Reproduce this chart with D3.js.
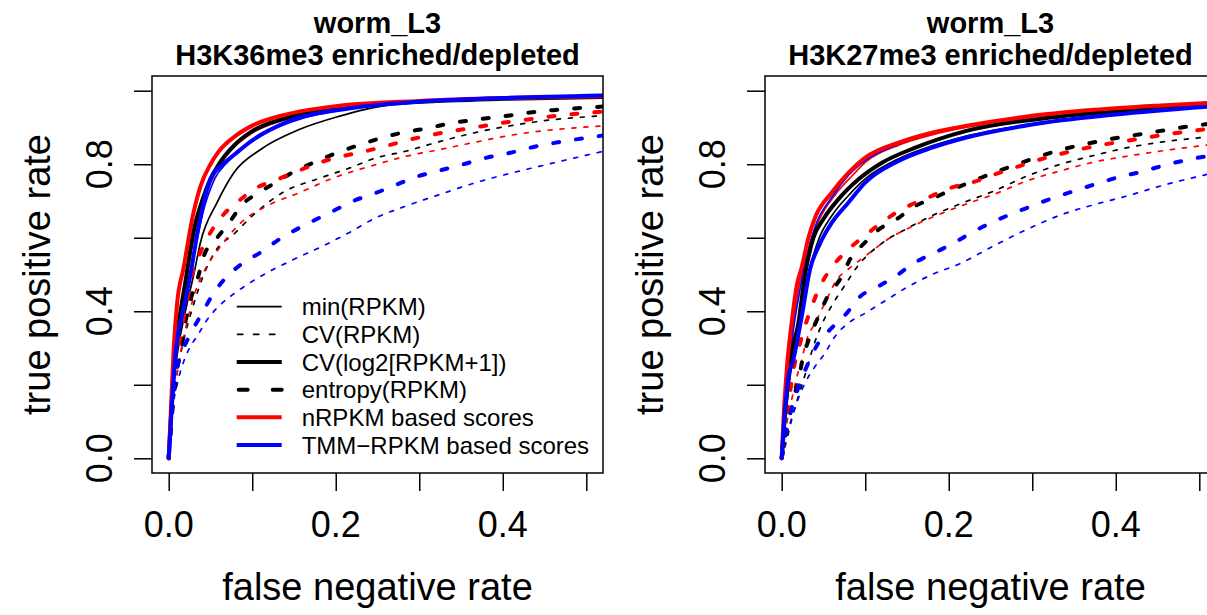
<!DOCTYPE html>
<html>
<head>
<meta charset="utf-8">
<script src="https://cdn.jsdelivr.net/npm/d3@7/dist/d3.min.js"></script>
<style>
  body { margin: 0; background: #fff; }
  text { font-family: "Liberation Sans", Arial, Helvetica, sans-serif; fill: #000; }
</style>
</head>
<body>
<svg id="chart" width="1207" height="615"></svg>
<script>
// ---- data ----
const titleTop = 'worm_L3';
const panelTitles = ['H3K36me3 enriched/depleted', 'H3K27me3 enriched/depleted'];
const xTicks = [0, 0.1, 0.2, 0.3, 0.4, 0.5];
const xTickLabels = ['0.0', '0.2', '0.4'];
const yTicks = [0, 0.2, 0.4, 0.6, 0.8, 1.0];
const yTickLabels = ['0.0', '0.4', '0.8'];
const legendLabels = ['min(RPKM)', 'CV(RPKM)', 'CV(log2[RPKM+1])', 'entropy(RPKM)', 'nRPKM based scores', 'TMM\u2212RPKM based scores'];

// H3K36me3 panel: [fnr, tpr]
const k36_min_rpkm = [[0,0],[0.005,0.18],[0.01,0.28],[0.02,0.4],[0.03,0.5],[0.038,0.587],[0.058,0.696],[0.078,0.777],[0.11,0.84],[0.157,0.895],[0.205,0.931],[0.245,0.954],[0.3,0.968],[0.4,0.978],[0.52,0.983]];
const k36_min_nrpkm = [[0,0],[0.005,0.18],[0.01,0.3],[0.02,0.46],[0.03,0.6],[0.045,0.72],[0.062,0.8],[0.08,0.85],[0.1,0.885],[0.14,0.922],[0.2,0.95],[0.3,0.968],[0.4,0.977],[0.52,0.982]];
const k36_min_tmm = [[0,0],[0.004,0.14],[0.008,0.26],[0.015,0.37],[0.022,0.45],[0.03,0.55],[0.04,0.66],[0.055,0.76],[0.07,0.805],[0.09,0.845],[0.12,0.89],[0.16,0.925],[0.22,0.952],[0.3,0.968],[0.4,0.978],[0.52,0.985]];
const k36_cv_rpkm = [[0,0],[0.004,0.12],[0.01,0.23],[0.02,0.34],[0.03,0.42],[0.042,0.5],[0.055,0.56],[0.08,0.614],[0.098,0.655],[0.138,0.725],[0.178,0.76],[0.217,0.79],[0.245,0.815],[0.285,0.836],[0.325,0.862],[0.365,0.885],[0.405,0.903],[0.445,0.917],[0.52,0.932]];
const k36_cv_nrpkm = [[0,0],[0.004,0.12],[0.01,0.23],[0.02,0.35],[0.03,0.44],[0.045,0.52],[0.06,0.57],[0.086,0.64],[0.118,0.687],[0.157,0.723],[0.193,0.759],[0.245,0.797],[0.285,0.822],[0.325,0.84],[0.365,0.859],[0.405,0.877],[0.445,0.89],[0.52,0.904]];
const k36_cv_tmm = [[0,0],[0.004,0.12],[0.01,0.2],[0.016,0.25],[0.024,0.296],[0.034,0.332],[0.046,0.377],[0.062,0.418],[0.082,0.454],[0.11,0.495],[0.146,0.537],[0.185,0.578],[0.217,0.615],[0.245,0.651],[0.285,0.687],[0.325,0.718],[0.365,0.748],[0.405,0.773],[0.445,0.795],[0.52,0.835]];
const k36_cvlog_rpkm = [[0,0],[0.005,0.2],[0.01,0.33],[0.02,0.48],[0.03,0.62],[0.04,0.7],[0.05,0.76],[0.06,0.8],[0.08,0.855],[0.1,0.89],[0.14,0.925],[0.2,0.952],[0.3,0.97],[0.4,0.978],[0.52,0.983]];
const k36_cvlog_nrpkm = [[0,0],[0.003,0.15],[0.006,0.3],[0.01,0.42],[0.018,0.52],[0.028,0.65],[0.038,0.74],[0.05,0.8],[0.06,0.835],[0.08,0.877],[0.1,0.905],[0.14,0.935],[0.2,0.958],[0.3,0.972],[0.4,0.98],[0.52,0.985]];
const k36_cvlog_tmm = [[0,0],[0.004,0.15],[0.008,0.28],[0.015,0.38],[0.02,0.43],[0.026,0.5],[0.035,0.62],[0.05,0.76],[0.065,0.8],[0.078,0.825],[0.1,0.865],[0.14,0.913],[0.22,0.953],[0.3,0.97],[0.4,0.98],[0.52,0.987]];
const k36_ent_rpkm = [[0,0],[0.004,0.12],[0.01,0.24],[0.016,0.31],[0.02,0.37],[0.026,0.43],[0.036,0.5],[0.042,0.55],[0.058,0.6],[0.072,0.64],[0.088,0.69],[0.108,0.723],[0.128,0.75],[0.15,0.78],[0.173,0.804],[0.197,0.827],[0.225,0.85],[0.251,0.869],[0.28,0.886],[0.31,0.898],[0.337,0.911],[0.37,0.922],[0.4,0.93],[0.43,0.94],[0.46,0.947],[0.52,0.957]];
const k36_ent_nrpkm = [[0,0],[0.004,0.14],[0.01,0.27],[0.016,0.36],[0.022,0.43],[0.028,0.5],[0.038,0.56],[0.05,0.614],[0.066,0.664],[0.084,0.7],[0.102,0.732],[0.126,0.755],[0.15,0.777],[0.175,0.8],[0.205,0.82],[0.231,0.833],[0.261,0.85],[0.289,0.867],[0.317,0.881],[0.347,0.893],[0.377,0.904],[0.407,0.915],[0.438,0.924],[0.469,0.933],[0.52,0.943]];
const k36_ent_tmm = [[0,0],[0.003,0.1],[0.008,0.22],[0.016,0.287],[0.028,0.346],[0.04,0.395],[0.054,0.45],[0.07,0.495],[0.09,0.533],[0.11,0.56],[0.13,0.592],[0.15,0.619],[0.173,0.646],[0.197,0.673],[0.221,0.7],[0.247,0.721],[0.271,0.743],[0.297,0.766],[0.323,0.782],[0.353,0.8],[0.381,0.818],[0.409,0.831],[0.437,0.847],[0.467,0.86],[0.52,0.878]];

// H3K27me3 panel
const k27_min_rpkm = [[0,0],[0.004,0.1],[0.01,0.22],[0.018,0.34],[0.026,0.44],[0.034,0.52],[0.045,0.6],[0.06,0.66],[0.08,0.715],[0.1,0.76],[0.14,0.815],[0.18,0.85],[0.22,0.876],[0.3,0.91],[0.4,0.937],[0.52,0.958]];
const k27_min_nrpkm = [[0,0],[0.003,0.1],[0.008,0.24],[0.014,0.37],[0.02,0.46],[0.028,0.53],[0.036,0.6],[0.045,0.65],[0.065,0.72],[0.085,0.77],[0.1,0.805],[0.14,0.852],[0.18,0.88],[0.22,0.9],[0.3,0.928],[0.4,0.95],[0.52,0.965]];
const k27_min_tmm = [[0,0],[0.003,0.1],[0.008,0.23],[0.014,0.35],[0.022,0.46],[0.03,0.55],[0.04,0.63],[0.06,0.71],[0.08,0.77],[0.1,0.81],[0.14,0.855],[0.18,0.885],[0.22,0.905],[0.3,0.932],[0.4,0.952],[0.52,0.968]];
const k27_cv_rpkm = [[0,0],[0.006,0.05],[0.012,0.106],[0.02,0.169],[0.03,0.242],[0.038,0.305],[0.048,0.364],[0.062,0.423],[0.076,0.472],[0.09,0.52],[0.12,0.585],[0.15,0.625],[0.18,0.66],[0.218,0.696],[0.254,0.727],[0.294,0.768],[0.334,0.8],[0.374,0.824],[0.414,0.845],[0.454,0.86],[0.52,0.876]];
const k27_cv_nrpkm = [[0,0],[0.005,0.08],[0.012,0.16],[0.018,0.22],[0.024,0.269],[0.03,0.323],[0.04,0.368],[0.052,0.423],[0.066,0.486],[0.08,0.515],[0.1,0.55],[0.13,0.6],[0.16,0.635],[0.19,0.665],[0.22,0.691],[0.254,0.718],[0.294,0.755],[0.334,0.782],[0.374,0.806],[0.414,0.822],[0.454,0.836],[0.52,0.855]];
const k27_cv_tmm = [[0,0],[0.006,0.06],[0.018,0.151],[0.028,0.205],[0.04,0.25],[0.052,0.287],[0.064,0.332],[0.08,0.368],[0.1,0.395],[0.12,0.423],[0.15,0.465],[0.18,0.5],[0.212,0.528],[0.254,0.578],[0.294,0.623],[0.334,0.662],[0.374,0.69],[0.414,0.714],[0.454,0.741],[0.52,0.778]];
const k27_cvlog_rpkm = [[0,0],[0.004,0.12],[0.01,0.26],[0.02,0.368],[0.028,0.5],[0.038,0.6],[0.05,0.651],[0.068,0.705],[0.092,0.759],[0.12,0.804],[0.16,0.845],[0.22,0.89],[0.334,0.93],[0.454,0.952],[0.52,0.96]];
const k27_cvlog_nrpkm = [[0,0],[0.002,0.1],[0.006,0.24],[0.012,0.37],[0.018,0.47],[0.024,0.52],[0.032,0.6],[0.04,0.655],[0.06,0.723],[0.08,0.777],[0.1,0.818],[0.14,0.859],[0.18,0.886],[0.22,0.904],[0.294,0.93],[0.374,0.948],[0.454,0.96],[0.52,0.968]];
const k27_cvlog_tmm = [[0,0],[0.004,0.133],[0.008,0.22],[0.014,0.269],[0.024,0.386],[0.034,0.515],[0.045,0.58],[0.06,0.641],[0.08,0.696],[0.1,0.75],[0.14,0.809],[0.18,0.845],[0.22,0.872],[0.3,0.908],[0.4,0.935],[0.52,0.958]];
const k27_ent_rpkm = [[0,0],[0.006,0.08],[0.012,0.142],[0.02,0.214],[0.026,0.278],[0.034,0.332],[0.044,0.386],[0.054,0.436],[0.072,0.495],[0.082,0.542],[0.098,0.583],[0.116,0.622],[0.138,0.651],[0.158,0.684],[0.182,0.708],[0.205,0.732],[0.23,0.755],[0.256,0.779],[0.282,0.8],[0.308,0.821],[0.334,0.839],[0.362,0.854],[0.392,0.868],[0.422,0.879],[0.452,0.89],[0.482,0.901],[0.52,0.912]];
const k27_ent_nrpkm = [[0,0],[0.005,0.1],[0.01,0.18],[0.014,0.24],[0.02,0.296],[0.028,0.36],[0.036,0.413],[0.046,0.468],[0.06,0.52],[0.076,0.56],[0.094,0.596],[0.112,0.628],[0.134,0.664],[0.156,0.691],[0.18,0.714],[0.204,0.737],[0.23,0.752],[0.256,0.773],[0.282,0.793],[0.308,0.812],[0.334,0.828],[0.362,0.843],[0.392,0.856],[0.422,0.867],[0.452,0.878],[0.482,0.888],[0.52,0.898]];
const k27_ent_tmm = [[0,0],[0.006,0.08],[0.014,0.151],[0.022,0.205],[0.032,0.26],[0.044,0.314],[0.06,0.355],[0.078,0.395],[0.092,0.436],[0.116,0.468],[0.14,0.501],[0.156,0.528],[0.18,0.556],[0.204,0.583],[0.226,0.612],[0.248,0.638],[0.272,0.662],[0.298,0.685],[0.322,0.706],[0.35,0.727],[0.376,0.746],[0.402,0.764],[0.43,0.779],[0.458,0.797],[0.486,0.812],[0.52,0.826]];

// ---- styles ----
const colors = { rpkm: '#000000', nrpkm: '#ff0000', tmm: '#0000ff' };
const THIN = 1.7, THICK = 4;
const metricStyle = {
  min:   { w: THIN,  dash: null,     legDash: null },
  cv:    { w: THIN,  dash: '4,8',    legDash: '5.3,10.7' },
  cvlog: { w: THICK, dash: null,     legDash: null },
  ent:   { w: THICK, dash: '6,17',   legDash: '9,25' }
};

const panels = [
  { title: panelTitles[0], dx: 0, series: {
      min: { rpkm: k36_min_rpkm, nrpkm: k36_min_nrpkm, tmm: k36_min_tmm },
      cv: { rpkm: k36_cv_rpkm, nrpkm: k36_cv_nrpkm, tmm: k36_cv_tmm },
      ent: { rpkm: k36_ent_rpkm, nrpkm: k36_ent_nrpkm, tmm: k36_ent_tmm },
      cvlog: { rpkm: k36_cvlog_rpkm, nrpkm: k36_cvlog_nrpkm, tmm: k36_cvlog_tmm } },
    legend: true },
  { title: panelTitles[1], dx: 613, series: {
      min: { rpkm: k27_min_rpkm, nrpkm: k27_min_nrpkm, tmm: k27_min_tmm },
      cv: { rpkm: k27_cv_rpkm, nrpkm: k27_cv_nrpkm, tmm: k27_cv_tmm },
      ent: { rpkm: k27_ent_rpkm, nrpkm: k27_ent_nrpkm, tmm: k27_ent_tmm },
      cvlog: { rpkm: k27_cvlog_rpkm, nrpkm: k27_cvlog_nrpkm, tmm: k27_cvlog_tmm } },
    legend: false }
];

const svg = d3.select('#chart');
const box = { left: 152, right: 603, top: 76, bottom: 473 };

panels.forEach(function (p, pi) {
  const g = svg.append('g').attr('transform', 'translate(' + p.dx + ',0)');
  const x = d3.scaleLinear().domain([-0.02, 0.52]).range([box.left, box.right]);
  const y = d3.scaleLinear().domain([-0.04, 1.04]).range([box.bottom, box.top]);
  const cx = (box.left + box.right) / 2;

  // clip to plot region
  const clipId = 'clip' + pi;
  g.append('clipPath').attr('id', clipId).append('rect')
    .attr('x', box.left).attr('y', box.top)
    .attr('width', box.right - box.left).attr('height', box.bottom - box.top);

  const line = d3.line().x(d => x(d[0])).y(d => y(d[1])).curve(d3.curveMonotoneX);
  const plot = g.append('g').attr('clip-path', 'url(#' + clipId + ')');

  ['min', 'cv', 'ent', 'cvlog'].forEach(function (m) {
    ['rpkm', 'nrpkm', 'tmm'].forEach(function (n) {
      const st = metricStyle[m];
      plot.append('path')
        .attr('d', line(p.series[m][n]))
        .attr('fill', 'none')
        .attr('stroke', colors[n])
        .attr('stroke-width', st.w)
        .attr('stroke-linecap', st.dash ? 'round' : 'butt')
        .attr('stroke-linejoin', 'round')
        .attr('stroke-dasharray', st.dash);
    });
  });

  // box
  g.append('rect')
    .attr('x', box.left).attr('y', box.top)
    .attr('width', box.right - box.left).attr('height', box.bottom - box.top)
    .attr('fill', 'none').attr('stroke', '#000').attr('stroke-width', 1.5);

  // x axis ticks
  const xAxis = g.append('g').attr('transform', 'translate(0,' + box.bottom + ')')
    .call(d3.axisBottom(x).tickValues(xTicks).tickSize(18).tickFormat(''));
  xAxis.select('.domain').remove();
  xAxis.selectAll('line').attr('stroke', '#000').attr('stroke-width', 1.5);
  g.selectAll('.xlab').data(xTickLabels).enter().append('text')
    .attr('x', d => x(+d)).attr('y', 537)
    .attr('text-anchor', 'middle').style('font-size', '36px').text(d => d);

  // y axis ticks
  const yAxis = g.append('g').attr('transform', 'translate(' + box.left + ',0)')
    .call(d3.axisLeft(y).tickValues(yTicks).tickSize(18).tickFormat(''));
  yAxis.select('.domain').remove();
  yAxis.selectAll('line').attr('stroke', '#000').attr('stroke-width', 1.5);
  g.selectAll('.ylab').data(yTickLabels).enter().append('text')
    .attr('transform', d => 'translate(112,' + y(+d) + ') rotate(-90)')
    .attr('text-anchor', 'middle').style('font-size', '36px').text(d => d);

  // axis titles
  g.append('text').attr('x', cx).attr('y', 600).attr('text-anchor', 'middle')
    .style('font-size', '38px').text('false negative rate');
  g.append('text').attr('transform', 'translate(50,' + ((box.top + box.bottom) / 2) + ') rotate(-90)')
    .attr('text-anchor', 'middle').style('font-size', '38px').text('true positive rate');

  // titles
  g.append('text').attr('x', cx).attr('y', 33).attr('text-anchor', 'middle')
    .style('font-size', '29px').style('font-weight', 'bold').text(titleTop);
  g.append('text').attr('x', cx).attr('y', 65).attr('text-anchor', 'middle')
    .style('font-size', '29px').style('font-weight', 'bold').text(p.title);

  if (p.legend) {
    const legRows = [
      { m: 'min', c: '#000' }, { m: 'cv', c: '#000' }, { m: 'cvlog', c: '#000' },
      { m: 'ent', c: '#000' }, { m: 'cvlog', c: colors.nrpkm }, { m: 'cvlog', c: colors.tmm }
    ];
    const leg = g.append('g');
    legendLabels.forEach(function (lab, i) {
      const ry = 306.7 + i * 27.66;
      const st = metricStyle[legRows[i].m];
      leg.append('line')
        .attr('x1', 236.7 + (st.legDash ? st.w / 2 : 0)).attr('x2', 281.7)
        .attr('y1', ry).attr('y2', ry)
        .attr('stroke', legRows[i].c).attr('stroke-width', st.w)
        .attr('stroke-linecap', st.legDash ? 'round' : 'butt')
        .attr('stroke-dasharray', st.legDash);
      leg.append('text').attr('x', 301.7).attr('y', ry + 8.5)
        .style('font-size', '24px').text(lab);
    });
  }
});
</script>
</body>
</html>
